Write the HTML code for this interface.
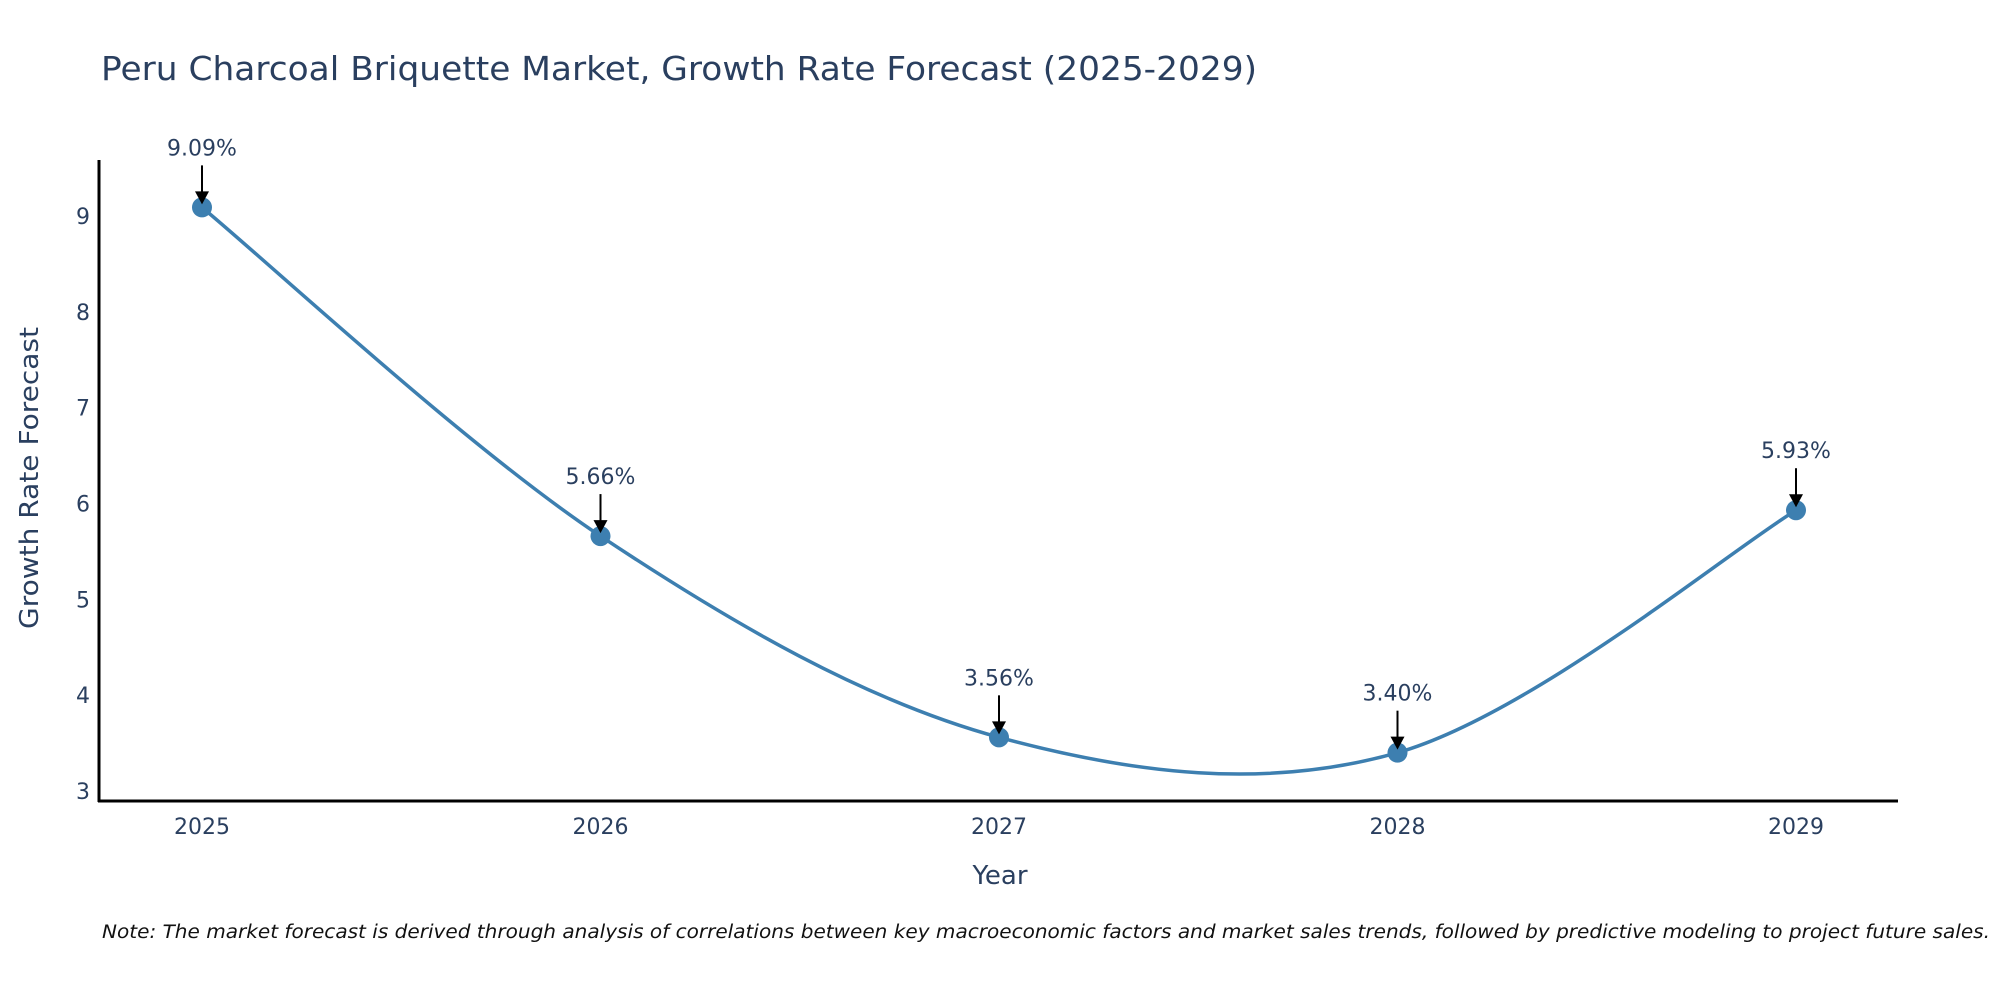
<!DOCTYPE html>
<html><head><meta charset="utf-8"><style>
body{margin:0;background:#fff;}
svg text{font-family:"DejaVu Sans","Liberation Sans",sans-serif;fill:#2a3f5f;}
</style></head><body>
<svg width="2000" height="1000" viewBox="0 0 2000 1000">
<text x="101" y="80" font-size="33" textLength="1156" lengthAdjust="spacingAndGlyphs">Peru Charcoal Briquette Market, Growth Rate Forecast (2025-2029)</text>
<g id="yticks"></g><g id="xticks"></g>
<line x1="99" y1="160" x2="99" y2="802" stroke="#000" stroke-width="3"/>
<line x1="98" y1="801" x2="1898" y2="801" stroke="#000" stroke-width="3"/>
<path id="series" fill="none" stroke="#3d7fb0" stroke-width="3.5"/>
<g id="marks"></g>
<text x="1000" y="884" font-size="26" text-anchor="middle">Year</text>
<text transform="translate(38,478) rotate(-90)" font-size="26" text-anchor="middle" textLength="302" lengthAdjust="spacingAndGlyphs">Growth Rate Forecast</text>
<text x="102" y="938" font-size="18.5" font-style="italic" textLength="1888" lengthAdjust="spacingAndGlyphs" style="fill:#111">Note: The market forecast is derived through analysis of correlations between key macroeconomic factors and market sales trends, followed by predictive modeling to project future sales.</text>
</svg>
<script>
const years=[2025,2026,2027,2028,2029];
const values=[9.09,5.66,3.56,3.40,5.93];
const labels=["9.09%","5.66%","3.56%","3.40%","5.93%"];
const yTicks=[3,4,5,6,7,8,9];
const NS="http://www.w3.org/2000/svg";
function X(i){return 202+(i-2025)*(1796-202)/4;}
function Y(v){return 791-(v-3)*(791-216)/6;}
function mk(t,a){const e=document.createElementNS(NS,t);for(const k in a)e.setAttribute(k,a[k]);return e;}
const yt=document.getElementById('yticks');
yTicks.forEach(v=>{const t=mk('text',{x:90,y:Y(v)+8,'font-size':22,'text-anchor':'end'});t.textContent=v;


yt.appendChild(t);});
const xt=document.getElementById('xticks');
years.forEach(y=>{const t=mk('text',{x:X(y),y:834,'font-size':22,'text-anchor':'middle'});t.textContent=y;


xt.appendChild(t);});
const P=years.map((y,i)=>[X(y),Y(values[i])]);
let d='M'+P[0][0]+','+P[0][1];
for(let i=0;i<P.length-1;i++){
 const p0=P[Math.max(i-1,0)],p1=P[i],p2=P[i+1],p3=P[Math.min(i+2,P.length-1)];
 const c1=[p1[0]+(p2[0]-p0[0])/6,p1[1]+(p2[1]-p0[1])/6];
 const c2=[p2[0]-(p3[0]-p1[0])/6,p2[1]-(p3[1]-p1[1])/6];
 d+=' C'+c1+' '+c2+' '+p2;
}
document.getElementById('series').setAttribute('d',d);
const g=document.getElementById('marks');
P.forEach((p,i)=>{
 const c=mk('circle',{cx:p[0],cy:p[1],r:10,fill:'#3d7fb0'});
 
 
 g.appendChild(c);
 const l=mk('line',{x1:p[0],y1:p[1]-42,x2:p[0],y2:p[1]-14,stroke:'#000','stroke-width':2});
 
 
 g.appendChild(l);
 const a=mk('polygon',{points:`${p[0]-7},${p[1]-16} ${p[0]+7},${p[1]-16} ${p[0]},${p[1]-3}`,fill:'#000'});
 
 
 g.appendChild(a);
 const t=mk('text',{x:p[0],y:p[1]-52,'font-size':22,'text-anchor':'middle'});
 t.textContent=labels[i];
 
 
 g.appendChild(t);
});
</script>
</body></html>
